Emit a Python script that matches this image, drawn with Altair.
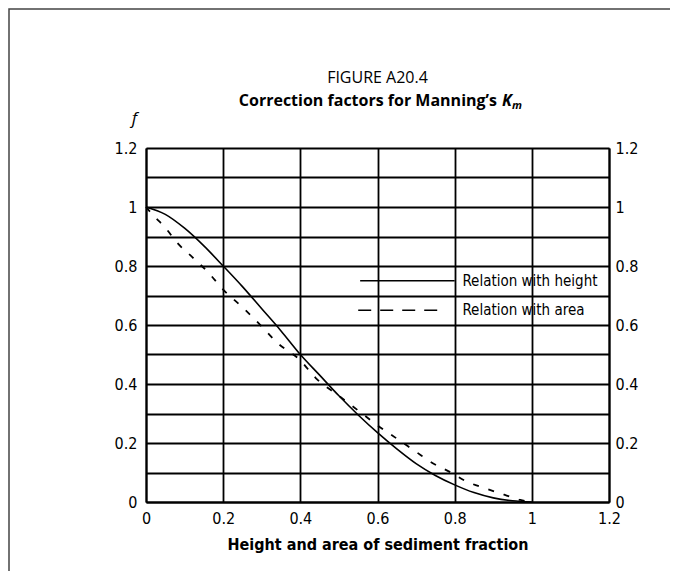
import altair as alt
import pandas as pd

# Relation with height (solid)
height_x = [0, 0.05, 0.1, 0.15, 0.2, 0.25, 0.3, 0.35, 0.4, 0.45, 0.5, 0.55, 0.6, 0.65, 0.7, 0.75, 0.8, 0.85, 0.9, 0.95, 1.0]
height_f = [1.0, 0.975, 0.928, 0.868, 0.80, 0.73, 0.655, 0.58, 0.50, 0.43, 0.36, 0.295, 0.235, 0.18, 0.13, 0.09, 0.058, 0.032, 0.014, 0.004, 0.0]
# Relation with area (dashed)
area_x = [0, 0.02, 0.05, 0.08, 0.12, 0.16, 0.2, 0.25, 0.3, 0.34, 0.4, 0.44, 0.5, 0.55, 0.6, 0.65, 0.7, 0.74, 0.79, 0.83, 0.88, 0.93, 0.97, 1.0]
area_f = [1.0, 0.97, 0.93, 0.88, 0.83, 0.78, 0.72, 0.66, 0.595, 0.54, 0.48, 0.42, 0.36, 0.31, 0.26, 0.215, 0.17, 0.134, 0.10, 0.07, 0.046, 0.024, 0.007, 0.0]

x_ticks = [0, 0.2, 0.4, 0.6, 0.8, 1.0, 1.2]
y_grid = [0, 0.1, 0.2, 0.3, 0.4, 0.5, 0.6, 0.7, 0.8, 0.9, 1.0, 1.1, 1.2]
y_ticks = [0, 0.2, 0.4, 0.6, 0.8, 1.0, 1.2]

legend_labels = ["Relation with height", "Relation with area"]
legend_x1 = [0.555, 0.55]
legend_x2 = [0.80, 0.765]
legend_y = [0.75, 0.65]
legend_text_x = [0.82, 0.82]

title_line1 = "FIGURE A20.4"
title_line2 = "Correction factors for Manning’s"
title_k = "K"
title_m = "m"
x_title = "Height and area of sediment fraction"
y_title = "f"

NARROW = "Liberation Sans Narrow, Arial Narrow, DejaVu Sans Condensed, sans-serif"
TFONT = "Open Sans, Noto Sans, sans-serif"

W, H = 463, 354

df_h = pd.DataFrame({"x": height_x, "f": height_f})
df_a = pd.DataFrame({"x": area_x, "f": area_f})
df_leg = pd.DataFrame({"label": legend_labels, "x1": legend_x1, "x2": legend_x2,
                       "y": legend_y, "tx": legend_text_x})
one = pd.DataFrame({"a": [0]})

xs = alt.Scale(domain=[0, 1.2], nice=False, zero=False)
ys = alt.Scale(domain=[0, 1.2], nice=False, zero=False)

xaxis = alt.Axis(values=x_ticks, grid=True, gridColor="black", gridWidth=1.8, gridOpacity=1,
                 domainColor="black", domainWidth=2, ticks=False,
                 labelExpr="format(datum.value, '~g')", labelFont=NARROW, labelFontSize=16,
                 labelColor="black", labelPadding=8, labelFlush=False,
                 title=x_title, titleFont=NARROW, titleFontSize=16, titleFontWeight="bold",
                 titleColor="black", titlePadding=10)
yaxis_left = alt.Axis(values=y_grid, grid=True, gridColor="black", gridWidth=1.8, gridOpacity=1,
                      domainColor="black", domainWidth=2, ticks=False,
                      labelExpr="round(datum.value*10) % 2 == 0 ? format(datum.value, '~g') : ''",
                      labelFont=NARROW, labelFontSize=16, labelColor="black", labelPadding=9,
                      labelFlush=False, labelOverlap=False,
                      title=y_title, titleAngle=0, titleFont=TFONT, titleFontSize=17,
                      titleFontStyle="italic", titleFontWeight="normal", titleColor="black",
                      titleX=-12, titleY=-30, titleAlign="center", titleBaseline="middle")
yaxis_right = alt.Axis(values=y_ticks, orient="right", grid=False, domainColor="black",
                       domainWidth=2, ticks=False, labelExpr="format(datum.value, '~g')",
                       labelFont=NARROW, labelFontSize=16, labelColor="black", labelPadding=6,
                       labelFlush=False, title=None)

solid = alt.Chart(df_h).mark_line(color="black", strokeWidth=1.6, interpolate="monotone").encode(
    x=alt.X("x:Q", scale=xs, axis=xaxis),
    y=alt.Y("f:Q", scale=ys, axis=yaxis_left),
)
dashed = alt.Chart(df_a).mark_line(color="black", strokeWidth=1.8, strokeDash=[6, 10],
                                   interpolate="monotone").encode(
    x=alt.X("x:Q", scale=xs),
    y=alt.Y("f:Q", scale=ys, axis=yaxis_right),
)

leg_solid = alt.Chart(df_leg).transform_filter(alt.datum.label == legend_labels[0]).mark_rule(
    color="black", strokeWidth=1.6).encode(
    x=alt.X("x1:Q", scale=xs), x2="x2:Q", y=alt.Y("y:Q", scale=ys, axis=None))
leg_dash = alt.Chart(df_leg).transform_filter(alt.datum.label == legend_labels[1]).mark_rule(
    color="black", strokeWidth=1.6, strokeDash=[13, 9]).encode(
    x=alt.X("x1:Q", scale=xs), x2="x2:Q", y=alt.Y("y:Q", scale=ys, axis=None))
leg_text = alt.Chart(df_leg).mark_text(font=NARROW, fontSize=15, align="left",
                                        baseline="middle", color="black").encode(
    x=alt.X("tx:Q", scale=xs), y=alt.Y("y:Q", scale=ys, axis=None), text="label:N")

t1 = alt.Chart(one).mark_text(text=title_line1, font=TFONT, fontSize=16, align="center",
                              baseline="middle", color="black").encode(
    x=alt.value(W / 2), y=alt.value(-70))
t2 = alt.Chart(one).mark_text(text=title_line2, font=TFONT, fontSize=16, fontWeight="bold",
                              align="right", baseline="middle", color="black").encode(
    x=alt.value(351), y=alt.value(-47))
t3 = alt.Chart(one).mark_text(text=title_k, font=TFONT, fontSize=16, fontWeight="bold",
                              fontStyle="italic", align="left", baseline="middle",
                              color="black").encode(x=alt.value(356), y=alt.value(-47))
t4 = alt.Chart(one).mark_text(text=title_m, font=TFONT, fontSize=11, fontWeight="bold",
                              fontStyle="italic", align="left", baseline="middle",
                              color="black").encode(x=alt.value(366), y=alt.value(-42))

frame = alt.Chart(one).mark_rect(fill=None, fillOpacity=0, stroke="#444444", strokeWidth=1.5).encode(
    x=alt.value(-137), y=alt.value(-139), x2=alt.value(700), y2=alt.value(700))

chart = alt.layer(solid, dashed, leg_solid, leg_dash, leg_text, t1, t2, t3, t4, frame).resolve_axis(
    y="independent").properties(
    width=W, height=H,
    autosize=alt.AutoSizeParams(type="none"),
    padding={"left": 138, "top": 140, "right": 61, "bottom": 69},
).configure_view(stroke="black", strokeWidth=2).configure(background="white")

chart.save("out.html", embed_options={"renderer": "svg", "actions": False})
